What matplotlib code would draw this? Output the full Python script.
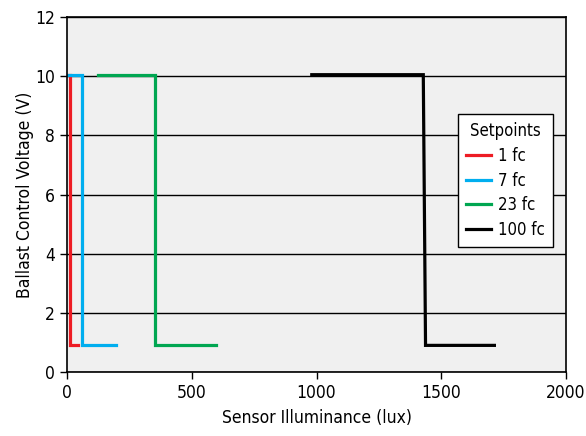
import matplotlib
matplotlib.use("Agg")
import matplotlib.pyplot as plt

plt.rcParams['font.family'] = ['DejaVu Sans']
plt.rcParams['font.stretch'] = 'condensed'

# step curves: illuminance (lux) vs control voltage (V)
labels = ['1 fc', '7 fc', '23 fc', '100 fc']
colors = ['#ed1c24', '#00aeef', '#00a651', '#000000']
lux = [
    [0, 12, 12, 45],
    [5, 61, 61, 196],
    [123, 354, 354, 596],
    [981, 1428, 1437, 1713],
]
volts = [
    [10.05, 10.05, 0.9, 0.9],
    [10.05, 10.05, 0.9, 0.9],
    [10.05, 10.05, 0.9, 0.9],
    [10.05, 10.05, 0.9, 0.9],
]

fig = plt.figure(figsize=(5.86, 4.36), dpi=100)
ax = fig.add_axes([67/586, 64/436, 499/586, 355/436])
ax.set_facecolor('#f0f0f0')

for x, y, c, lab in zip(lux, volts, colors, labels):
    ax.plot(x, y, color=c, lw=2.3, label=lab, solid_joinstyle='miter')

ax.set_xlim(0, 2000)
ax.set_ylim(0, 12)
ax.set_xticks([0, 500, 1000, 1500, 2000])
ax.set_yticks(range(0, 13, 2))
ax.grid(axis='y', color='black', lw=1.0)
ax.set_axisbelow(True)
for s in ax.spines.values():
    s.set_color('black')
    s.set_linewidth(1.2)
ax.tick_params(labelsize=12.5, length=5, width=1)

ax.set_xlabel('Sensor Illuminance (lux)', fontsize=12.5, labelpad=5)
ax.set_ylabel('Ballast Control Voltage (V)', fontsize=12.5, labelpad=1)

leg = ax.legend(title='Setpoints', loc='upper right', bbox_to_anchor=(0.974, 0.727),
                borderaxespad=0, fontsize=12, title_fontsize=12, fancybox=False,
                framealpha=1, edgecolor='black', handlelength=1.5, handletextpad=0.4,
                borderpad=0.5, labelspacing=0.4)
leg.get_frame().set_linewidth(1.0)

fig.savefig('out.png', dpi=100)
